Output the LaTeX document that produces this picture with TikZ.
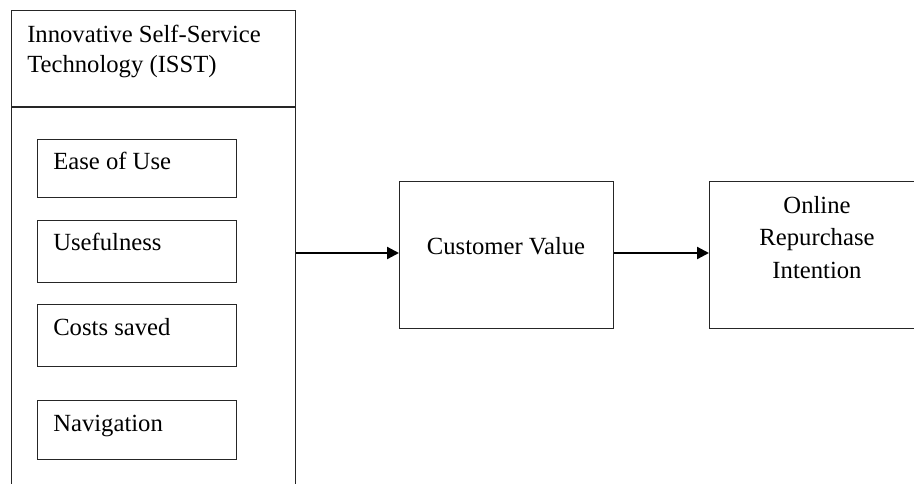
\documentclass[tikz,border=0pt]{standalone}
\usepackage{fontspec}
\setmainfont{Liberation Serif}
\usetikzlibrary{arrows.meta}
\begin{document}
\begin{tikzpicture}[x=0.75pt,y=-0.75pt,
  box/.style={draw=black!85, line width=1.1pt, inner sep=0pt, rectangle},
  lbl/.style={inner sep=0pt, font=\fontsize{18.5}{24}\selectfont},
  link/.style={line width=1.7pt, -{Triangle[length=9pt,width=9pt]}}]
\useasboundingbox (0,0) rectangle (914,483);
\clip (0,0) rectangle (914,483);
% outer ISST panel (runs off the bottom edge)
\node[box, anchor=north west, minimum width=284*0.75pt, minimum height=520*0.75pt] (isst) at (11,10) {};
\draw[draw=black!85, line width=1.1pt] (11,107) -- (295,107);
\node[lbl, anchor=base west] (t1) at (27,42) {Innovative Self-Service};
\node[lbl, anchor=base west] (t2) at (27,72) {Technology (ISST)};
% dimension boxes
\node[box, anchor=north west, minimum width=199*0.75pt, minimum height=58*0.75pt] (ease) at (37,139) {};
\node[lbl, anchor=base west] (easet) at (53,169) {Ease of Use};
\node[box, anchor=north west, minimum width=199*0.75pt, minimum height=62*0.75pt] (use) at (37,220) {};
\node[lbl, anchor=base west] (uset) at (53,250) {Usefulness};
\node[box, anchor=north west, minimum width=199*0.75pt, minimum height=62*0.75pt] (cost) at (37,304) {};
\node[lbl, anchor=base west] (costt) at (53,335) {Costs saved};
\node[box, anchor=north west, minimum width=199*0.75pt, minimum height=59*0.75pt] (nav) at (37,400) {};
\node[lbl, anchor=base west] (navt) at (53,431) {Navigation};
% customer value
\node[box, anchor=north west, minimum width=214*0.75pt, minimum height=147*0.75pt] (cv) at (399,181) {};
\node[lbl, anchor=base] (cvt) at (506,254) {Customer Value};
% online repurchase intention (runs off the right edge)
\node[box, anchor=north west, minimum width=230*0.75pt, minimum height=147*0.75pt] (ori) at (709,181) {};
\node[lbl, anchor=base] (o1) at (817,213) {Online};
\node[lbl, anchor=base] (o2) at (817,245) {Repurchase};
\node[lbl, anchor=base] (o3) at (817,278) {Intention};
% connectors
\coordinate (a1) at (isst.east |- 0,253);
\draw[link] (a1) -- (cv.west |- a1);
\draw[link] (cv.east |- a1) -- (ori.west |- a1);
\end{tikzpicture}
\end{document}
